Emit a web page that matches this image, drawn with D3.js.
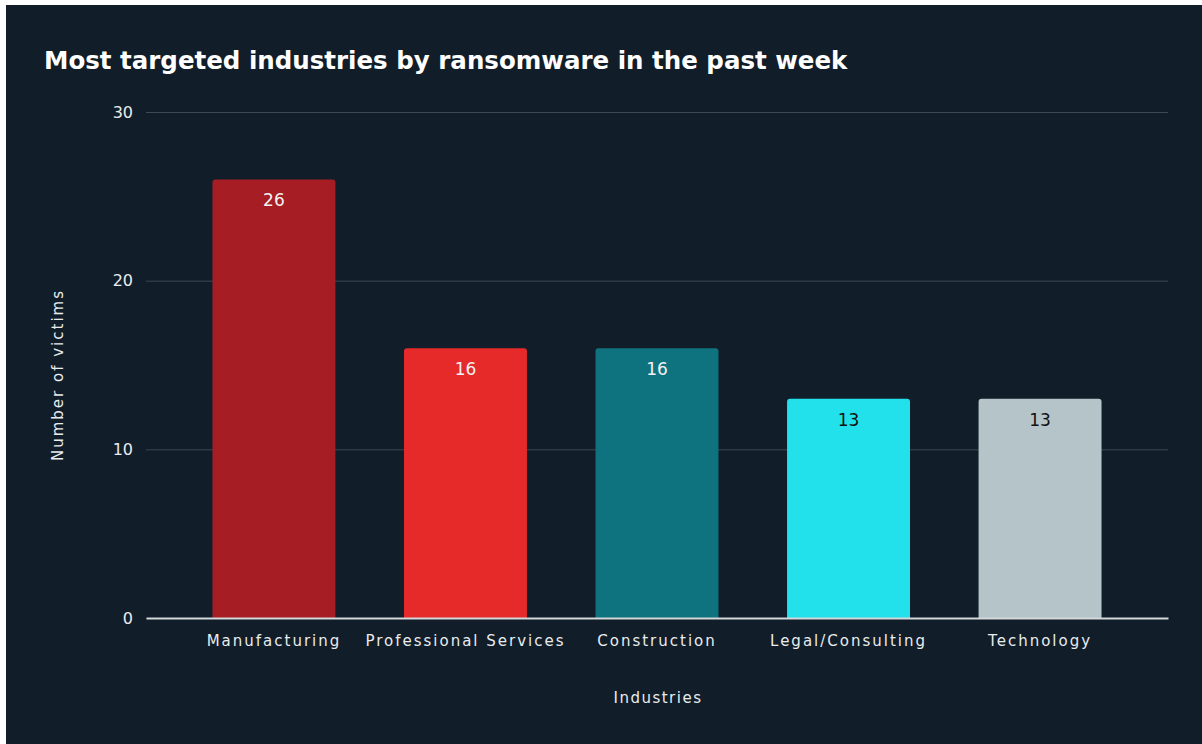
<!DOCTYPE html>
<html>
<head>
<script src="https://cdn.jsdelivr.net/npm/d3@7"></script>
<style>
  body { margin: 0; background: #ffffff; }
  #chart { position: absolute; left: 0; top: 0; }
  .tick text { font-family: "DejaVu Sans", sans-serif; fill: #e8ecee; }
</style>
</head>
<body>
<div id="chart"></div>
<script>
  var industries = ["Manufacturing", "Professional Services", "Construction", "Legal/Consulting", "Technology"];
  var victims = [26, 16, 16, 13, 13];
  var barColors = ["#a61e24", "#e62a2a", "#0f737f", "#22e1ea", "#b5c4c9"];
  var labelColors = ["#f2f2f2", "#f2f2f2", "#f2f2f2", "#111111", "#111111"];
  var yTicks = [0, 10, 20, 30];

  var W = 1202, H = 744;
  var margin = { top: 112, right: 34, bottom: 126, left: 146 };
  var width = W - margin.left - margin.right;
  var height = H - margin.top - margin.bottom;

  var svg = d3.select("#chart").append("svg")
    .attr("width", W)
    .attr("height", H);

  // dark panel, offset a few pixels like the screenshot
  svg.append("rect")
    .attr("x", 6).attr("y", 5)
    .attr("width", W - 6).attr("height", H - 5)
    .attr("fill", "#111d28");

  svg.append("text")
    .attr("x", 44).attr("y", 69)
    .attr("font-family", "DejaVu Sans, sans-serif")
    .attr("font-weight", "bold")
    .attr("font-size", 24.5)
    .attr("fill", "#ffffff")
    .text("Most targeted industries by ransomware in the past week");

  var g = svg.append("g")
    .attr("transform", "translate(" + margin.left + "," + margin.top + ")");

  var x = d3.scaleBand()
    .domain(industries)
    .range([0, width])
    .paddingInner(0.358)
    .paddingOuter(0.347);

  var y = d3.scaleLinear()
    .domain([0, 30])
    .range([height, 0]);

  // gridlines
  var yAxis = d3.axisLeft(y)
    .tickValues(yTicks)
    .tickSize(-width)
    .tickPadding(13);

  var gy = g.append("g").attr("class", "y axis").call(yAxis);
  gy.select(".domain").remove();
  gy.selectAll("line").attr("stroke", "#3c4a52").attr("stroke-width", 1);
  gy.selectAll("text").attr("font-size", 16);

  var rows = industries.map(function(d, i) {
    return { name: d, value: victims[i], color: barColors[i], label: labelColors[i] };
  });

  g.selectAll(".bar")
    .data(rows).enter()
    .append("path")
    .attr("class", "bar")
    .attr("fill", function(d) { return d.color; })
    .attr("d", function(d) {
      var x0 = x(d.name), x1 = x0 + x.bandwidth(), y0 = y(d.value), y1 = y(0), r = 3;
      return "M" + x0 + "," + y1 + "V" + (y0 + r) + "Q" + x0 + "," + y0 + " " + (x0 + r) + "," + y0 +
        "H" + (x1 - r) + "Q" + x1 + "," + y0 + " " + x1 + "," + (y0 + r) + "V" + y1 + "Z";
    });

  g.selectAll(".val")
    .data(rows).enter()
    .append("text")
    .attr("class", "val")
    .attr("x", function(d) { return x(d.name) + x.bandwidth() / 2; })
    .attr("y", function(d) { return y(d.value) + 27; })
    .attr("text-anchor", "middle")
    .attr("font-family", "DejaVu Sans, sans-serif")
    .attr("font-size", 17)
    .attr("fill", function(d) { return d.label; })
    .text(function(d) { return d.value; });

  // x axis
  var xAxis = d3.axisBottom(x).tickSize(0).tickPadding(17);
  var gx = g.append("g")
    .attr("class", "x axis")
    .attr("transform", "translate(0," + height + ")")
    .call(xAxis);
  gx.select(".domain").attr("stroke", "#d4d8da").attr("stroke-width", 2);
  gx.selectAll("text")
    .attr("font-size", 15)
    .attr("letter-spacing", "2px");

  svg.append("text")
    .attr("x", margin.left + width / 2 + 1)
    .attr("y", 703)
    .attr("text-anchor", "middle")
    .attr("font-family", "DejaVu Sans, sans-serif")
    .attr("font-size", 15)
    .attr("letter-spacing", "1.5px")
    .attr("fill", "#e8ecee")
    .text("Industries");

  svg.append("text")
    .attr("transform", "translate(63," + 375 + ") rotate(-90)")
    .attr("text-anchor", "middle")
    .attr("font-family", "DejaVu Sans, sans-serif")
    .attr("font-size", 15)
    .attr("letter-spacing", "2px")
    .attr("fill", "#e8ecee")
    .text("Number of victims");
</script>
</body>
</html>
